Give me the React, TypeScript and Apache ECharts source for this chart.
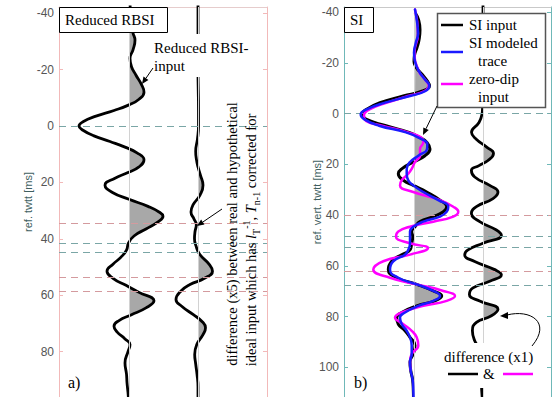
import React, { useEffect, useRef } from 'react';
import * as echarts from 'echarts';

// ---------- Panel a) Reduced RBSI ----------
const aTicks = [-40, -20, 0, 20, 40, 60, 80];
const aInputTime = [-44, -40, -36, -33, -30.5, -27, -24, -21, -18, -15, -12, -9.5, -7.5, -5.5, -3.5, -1.5, 0, 1.5, 3.5, 5.5, 7.5, 9.5, 12, 14.5, 16.5, 18.5, 21, 23.5, 26, 28.5, 30.5, 32, 34, 36.5, 39, 41.5, 44, 46.5, 49, 51.5, 54, 56.5, 59, 62, 64.5, 67, 69, 71, 73, 75.5, 77.5, 80, 84, 88, 91, 94.5, 97];
const aInputAmp = [1, 1.5, 2.5, 4, 6, 4, 1, 2.5, 7, 12, 15, 10, 0, -15, -33, -46, -50, -46, -35, -19, -4, 8, 15, 10, -1, -14, -24, -17, 0, 19, 30, 34, 29, 17, 5, -0.5, -2.5, -8, -16, -22, -16, -3, 10, 25, 17, 2, -10, -15, -12, -4, 1, -1, -4, -2.5, -2, -1, -0.5];
const aDiffTime = [-44, -20, -5, 0, 4.5, 9, 12, 14.5, 17.5, 21, 24.5, 28, 30.5, 33, 35, 37.5, 40, 42.5, 45.5, 49, 51.5, 54, 56.2, 58.5, 61.5, 64, 66.8, 69.5, 71.5, 74, 77.3, 81, 84.4, 88, 92.5, 97];
const aDiffAmp = [0, 0, 0.5, 0.5, -0.5, -2.3, -1.5, 0, 2.5, 5, 2, -5, -7, -4, -1.7, -3, -3.5, -2, 1.7, 11, 14.5, 6.5, -8, -17, -22, -16, -5, 4.5, 7.5, 5, -1, -3.3, -2.3, -1, 0, 0];
const aDashTeal = [0, 41.5, 44.7];
const aDashPink = [34.5, 53.6, 58.5];

// ---------- Panel b) SI ----------
const bTicks = [-40, -20, 0, 20, 40, 60, 80, 100];
const bInputTime = [-39.5, -37, -33, -29, -26, -23, -20.5, -18, -15.5, -13, -11, -8.8, -6.9, -4.3, -1.7, 0.3, 2.2, 4.8, 7.4, 9.5, 11.3, 14, 16.6, 19.1, 21.8, 23.7, 26.3, 28.3, 30.9, 34.1, 36.7, 38.7, 40.6, 42.6, 44.6, 46.5, 48.5, 51.1, 53.7, 55.6, 58.2, 61.5, 64.7, 67.3, 69.9, 71.9, 73.8, 75.8, 78.4, 80.4, 83, 85.6, 88.2, 91.4, 94.7, 97.9, 101.2, 105.1, 109, 113];
const bInputAmp = [1.5, 4.5, 6, 5, 3, 0.5, 0, 2.5, 8, 13, 15.5, 7.7, -10.7, -34, -47.3, -52, -48, -28, -5, 6, 12.7, 16, 11, -0.7, -12.3, -15.7, -10.7, -0.7, 12.7, 26, 32.7, 29.3, 19.3, 6, 1, -2.3, -1.3, -2.3, -4, -12.3, -22.3, -25.7, -17.3, 2.7, 19.3, 27.7, 21, 2.7, -12.3, -17.3, -15.7, -9, -4, 1, -0.7, -4, -3.3, -1.3, -0.7, -0.5];
const bModelTime = [-41, -37, -31.6, -27.7, -24, -20.5, -16.6, -13.4, -11, -8.8, -6.9, -4.3, -1.7, 0.3, 2.2, 4.8, 7.4, 10, 12, 14, 16.6, 19.1, 21.8, 23.7, 26.3, 28.3, 30.9, 34.1, 36.7, 38.7, 40.6, 42.6, 44.6, 46.5, 48.5, 51.1, 53.7, 55.6, 58.2, 61.5, 64.7, 67.3, 69.9, 71.9, 73.8, 75.8, 78.4, 80.4, 83, 85.6, 88.2, 91.4, 94.7, 97.9, 101.2, 105.1, 109, 113];
const bModelAmp = [1, 2.7, 4, 1.7, 0, 1, 5, 11, 15.3, 11, -4, -29, -47.3, -53.3, -50, -35, -8, 7, 13.3, 13, 4.3, -4, -7.3, -7.3, -5.7, -0.7, 9.3, 24.3, 34.3, 32.7, 26, 9.3, -0.7, -4, -4, -4, -5.7, -9, -20.7, -24, -15.7, 2.7, 19.3, 26, 19.3, 4.3, -9, -14, -12.3, -7.3, -4, -2.3, -2.3, -4, -3.3, -1.3, -0.7, -0.5];
const bZeroDipTime = [-41, -31.6, -24, -16.6, -13.4, -11, -8.8, -6.9, -4.3, -1.7, 0.8, 2.9, 4.8, 7.4, 10, 11.3, 14, 16.6, 19.1, 21.8, 23.7, 26.3, 28.3, 30.9, 34.1, 36.7, 38.7, 40.6, 42.6, 44.6, 46.5, 48.5, 51.1, 53, 55.6, 58.2, 61.5, 64.7, 67.3, 69.9, 71.9, 73.8, 75.8, 78.4, 80.4, 83, 85.6, 88.2, 91.4, 94.7, 97.9, 101.2];
const bZeroDipAmp = [1, 4, 0.5, 5, 11, 14.7, 10, -6, -27, -44, -50, -48, -32, -6, 8.7, 9.3, 6, 6, 1, -2.3, -5.7, -12.3, -14, -0.7, 26, 39.3, 44.3, 39.3, 19.3, -4, -15.7, -18, -4, 14, -4, -30.7, -40.7, -24, 2.7, 29.3, 41, 32.7, 9.3, -12.3, -19, -10.7, -2.3, 2.7, 4.3, -2.3, -4, -3.3];
const bDiffTime = [-44, -20, -2, 0.3, 3.5, 7.4, 10, 13.3, 15.7, 18.5, 20.5, 22.4, 25, 28.3, 30.9, 33.5, 36.7, 39.3, 42.6, 45.9, 48, 51.1, 53.7, 55.7, 58.3, 61.5, 63.5, 66.1, 68.7, 71.3, 73.9, 77.1, 79.7, 82.3, 85.6, 89.5, 93, 97, 101, 106, 113];
const bDiffAmp = [0, 0, -0.5, -1, -4, -11.5, -7, 4, 10.5, 5, -4, -11.6, -8.3, 6.7, 15, 10, -6.6, -11.6, -3.3, 13.4, 18.4, 0, -15, -18.3, -8.3, 11.7, 18.4, 6.7, -10, -13.6, -3.3, 15, 8.4, -6.6, -10.6, -8.3, -3, 0, -1, -1.5, -0.5];
const bDashTeal = [0, 48.2, 52.5, 67.8];
const bDashPink = [40.2, 62];

// ---------- layout / style ----------
const OFF1 = 70;
const OFF2 = 139;
const A_RANGE = { min: -42.2, max: 96.1, xMax: 208 };
const B_RANGE = { min: -42, max: 111.7, xMax: 207 };
const SERIF = '"Liberation Serif", "Times New Roman", serif';
const SANS = '"Liberation Sans", Arial, sans-serif';
const PINK_AXIS = '#f2b9b9';
const TEAL_AXIS = '#6fb8b8';
const DASH_TEAL = '#7aa6a6';
const DASH_PINK = '#d49a9e';
const FILL = '#a8a8a8';

const pairs = (t: number[], a: number[], off: number) => t.map((v, i) => [off + a[i], v]);

function fillSeries(t: number[], a: number[], off: number, gi: number, range: any) {
  return {
    type: 'custom',
    xAxisIndex: gi,
    yAxisIndex: gi * 2,
    z: 2,
    silent: true,
    clip: true,
    data: [0],
    renderItem: (_p: any, api: any) => {
      const pts = t.map((v, i) => api.coord([off + a[i], v]));
      const tl = api.coord([off, range.min]);
      const br = api.coord([range.xMax, range.max]);
      return {
        type: 'polyline',
        shape: { points: pts, smooth: 0.5 },
        style: { fill: FILL, stroke: null, lineWidth: 0 },
        clipPath: { type: 'rect', shape: { x: tl[0], y: tl[1], width: br[0] - tl[0], height: br[1] - tl[1] } },
      };
    },
  };
}

function traceSeries(name: string, t: number[], a: number[], off: number, gi: number, color: string, width: number, z: number) {
  return {
    type: 'line',
    name,
    xAxisIndex: gi,
    yAxisIndex: gi * 2,
    data: pairs(t, a, off),
    smooth: 0.5,
    symbol: 'none',
    showSymbol: false,
    z,
    silent: true,
    lineStyle: { color, width, cap: 'round', join: 'round' },
  };
}

function markSeries(gi: number, teal: number[], pink: number[]) {
  return [
    {
      type: 'line', xAxisIndex: gi, yAxisIndex: gi * 2, data: [], z: 1, silent: true,
      markLine: {
        silent: true, symbol: ['none', 'none'], label: { show: false }, animation: false,
        data: [
          { xAxis: OFF1, lineStyle: { color: '#d2d2d2', type: 'solid', width: 1 } },
          { xAxis: OFF2, lineStyle: { color: '#d2d2d2', type: 'solid', width: 1 } },
        ],
      },
    },
    {
      type: 'line', xAxisIndex: gi, yAxisIndex: gi * 2, data: [], z: 3, silent: true,
      markLine: {
        silent: true, symbol: ['none', 'none'], label: { show: false }, animation: false,
        data: [
          ...teal.map((v) => ({ yAxis: v, lineStyle: { color: DASH_TEAL, type: [7, 5], width: 1 } })),
          ...pink.map((v) => ({ yAxis: v, lineStyle: { color: DASH_PINK, type: [7, 5], width: 1 } })),
        ],
      },
    },
  ];
}

function yAxes(gi: number, range: any, ticks: number[], color: string, name: string, nameGap: number) {
  const common = {
    type: 'value', gridIndex: gi, inverse: true, min: range.min, max: range.max,
    splitLine: { show: false },
    axisLine: { show: true, onZero: false, lineStyle: { color, width: 1 } },
    axisTick: { show: true, inside: true, length: 4, customValues: ticks, lineStyle: { color, width: 1 } },
  };
  return [
    {
      ...common, position: 'left',
      name, nameLocation: 'middle', nameGap, nameRotate: 90, nameMoveOverlap: false,
      nameTextStyle: { color: '#3f5f5f', fontSize: 11, fontFamily: SANS },
      axisLabel: { show: true, customValues: ticks, color: '#555', fontSize: 12, fontFamily: SANS, margin: 5 },
    },
    { ...common, position: 'right', axisLabel: { show: false } },
  ];
}

function xAxis(gi: number, range: any, color: string) {
  return {
    type: 'value', gridIndex: gi, min: 0, max: range.xMax, position: 'top',
    axisLine: { show: true, onZero: false, lineStyle: { color, width: 1 } },
    axisTick: { show: false }, axisLabel: { show: false }, splitLine: { show: false },
  };
}

function arrow(x1: number, y1: number, x2: number, y2: number, len = 7, half = 3) {
  const ang = Math.atan2(y2 - y1, x2 - x1);
  const bx = x2 - len * Math.cos(ang);
  const by = y2 - len * Math.sin(ang);
  const px = -Math.sin(ang) * half;
  const py = Math.cos(ang) * half;
  return [
    { type: 'line', z: 110, shape: { x1, y1, x2: bx, y2: by }, style: { stroke: '#000', lineWidth: 1 } },
    { type: 'polygon', z: 110, shape: { points: [[x2, y2], [bx + px, by + py], [bx - px, by - py]] }, style: { fill: '#000' } },
  ];
}

function txt(x: number, y: number, text: string, size = 15, extra: any = {}) {
  return {
    type: 'text', x, y, z: 111,
    style: { text, fill: '#000', font: `${size}px ${SERIF}`, align: 'left', verticalAlign: 'middle', ...extra },
  };
}

export default function App() {
  const ref = useRef<HTMLDivElement>(null);
  useEffect(() => {
    document.body.style.margin = '0';
    if (!ref.current) return;
    const chart = echarts.init(ref.current, null, { renderer: 'svg' });

    const cx = 532, cy = 346;
    const graphic: any[] = [
      // panel a labels
      { type: 'rect', z: 105, shape: { x: 59.5, y: 7.5, width: 108, height: 25 }, style: { fill: '#fff', stroke: '#000', lineWidth: 1 } },
      txt(65, 20, 'Reduced RBSI'),
      { type: 'rect', z: 105, shape: { x: 150, y: 34, width: 105, height: 43 }, style: { fill: '#fff', stroke: null } },
      txt(154, 48, 'Reduced RBSI-'),
      txt(154, 66, 'input'),
      ...arrow(153, 68, 142, 84),
      ...arrow(222, 209, 197, 226),
      {
        type: 'text', x: 232, y: 234, rotation: Math.PI / 2, z: 111,
        style: { text: 'difference (x5) between real and hypothetical', fill: '#000', font: `14.5px ${SERIF}`, align: 'center', verticalAlign: 'middle' },
      },
      {
        type: 'text', x: 251, y: 240, rotation: Math.PI / 2, z: 111,
        style: {
          text: '{n|ideal input which has }{i|l}{s|T}{p|-1}{n|, }{i|T}{s|n-1}{n| corrected for}',
          fill: '#000', align: 'center', verticalAlign: 'middle',
          rich: {
            n: { fontSize: 14.5, fontFamily: SERIF, lineHeight: 20, verticalAlign: 'middle' },
            i: { fontSize: 14.5, fontFamily: SERIF, fontStyle: 'italic', lineHeight: 20, verticalAlign: 'middle' },
            s: { fontSize: 10, fontFamily: SERIF, lineHeight: 20, verticalAlign: 'bottom' },
            p: { fontSize: 10, fontFamily: SERIF, lineHeight: 20, verticalAlign: 'top' },
          },
        },
      },
      txt(68, 382, 'a)', 16),
      // panel b labels
      { type: 'rect', z: 105, shape: { x: 344.5, y: 7.5, width: 29, height: 25 }, style: { fill: '#fff', stroke: '#000', lineWidth: 1 } },
      txt(350, 20, 'SI'),
      { type: 'rect', z: 105, shape: { x: 437.5, y: 13.5, width: 108, height: 94 }, style: { fill: '#fff', stroke: '#555', lineWidth: 1.5 } },
      { type: 'line', z: 110, shape: { x1: 441, y1: 25, x2: 463, y2: 25 }, style: { stroke: '#000', lineWidth: 2.5 } },
      txt(469, 25, 'SI input'),
      { type: 'line', z: 110, shape: { x1: 441, y1: 52, x2: 463, y2: 52 }, style: { stroke: '#1a1aff', lineWidth: 2.5 } },
      txt(469, 43, 'SI modeled'),
      txt(478, 61, 'trace'),
      { type: 'line', z: 110, shape: { x1: 441, y1: 84, x2: 463, y2: 84 }, style: { stroke: '#ff00ff', lineWidth: 2.5 } },
      txt(469, 79, 'zero-dip'),
      txt(478, 97, 'input'),
      ...arrow(437, 106, 423, 135),
      { type: 'rect', z: 105, shape: { x: 440, y: 343, width: 100, height: 45 }, style: { fill: '#fff', stroke: null } },
      txt(444, 357, 'difference (x1)'),
      { type: 'line', z: 110, shape: { x1: 448, y1: 374, x2: 478, y2: 374 }, style: { stroke: '#000', lineWidth: 2.5 } },
      txt(483, 374, '&'),
      { type: 'line', z: 110, shape: { x1: 503, y1: 374, x2: 533, y2: 374 }, style: { stroke: '#ff00ff', lineWidth: 2.5 } },
      {
        type: 'bezierCurve', z: 110,
        shape: { x1: cx, y1: cy, cpx1: 552, cpy1: 322, cpx2: 530, cpy2: 309, x2: 507, y2: 315 },
        style: { stroke: '#000', lineWidth: 1, fill: null },
      },
      { type: 'polygon', z: 110, shape: { points: [[500, 316], [508, 312], [508, 319]] }, style: { fill: '#000' } },
      txt(354, 382, 'b)', 16),
    ];

    const option: any = {
      animation: false,
      grid: [
        { left: 59, top: 7, width: 208, height: 393 },
        { left: 344, top: 7, width: 207, height: 393 },
      ],
      xAxis: [xAxis(0, A_RANGE, '#e6cccc'), xAxis(1, B_RANGE, '#c9c9c9')],
      yAxis: [
        ...yAxes(0, A_RANGE, aTicks, PINK_AXIS, 'ref. twtt [ms]', 26),
        ...yAxes(1, B_RANGE, bTicks, TEAL_AXIS, 'ref. vert. twtt [ms]', 22),
      ],
      series: [
        ...markSeries(0, aDashTeal, aDashPink),
        fillSeries(aInputTime, aInputAmp, OFF1, 0, A_RANGE),
        fillSeries(aDiffTime, aDiffAmp, OFF2, 0, A_RANGE),
        traceSeries('Reduced RBSI-input', aInputTime, aInputAmp, OFF1, 0, '#000', 2.8, 4),
        traceSeries('difference (x5)', aDiffTime, aDiffAmp, OFF2, 0, '#000', 2.8, 4),
        ...markSeries(1, bDashTeal, bDashPink),
        fillSeries(bInputTime, bInputAmp, OFF1, 1, B_RANGE),
        fillSeries(bDiffTime, bDiffAmp, OFF2, 1, B_RANGE),
        traceSeries('SI input', bInputTime, bInputAmp, OFF1, 1, '#000', 3, 4),
        traceSeries('zero-dip input', bZeroDipTime, bZeroDipAmp, OFF1, 1, '#ff00ff', 2.5, 5),
        traceSeries('SI modeled trace', bModelTime, bModelAmp, OFF1, 1, '#1a1aff', 2.5, 6),
        traceSeries('difference (x1)', bDiffTime, bDiffAmp, OFF2, 1, '#000', 2.8, 4),
      ],
      graphic,
    };
    chart.setOption(option);
    return () => chart.dispose();
  }, []);
  return <div ref={ref} style={{ width: 552, height: 397 }} />;
}
